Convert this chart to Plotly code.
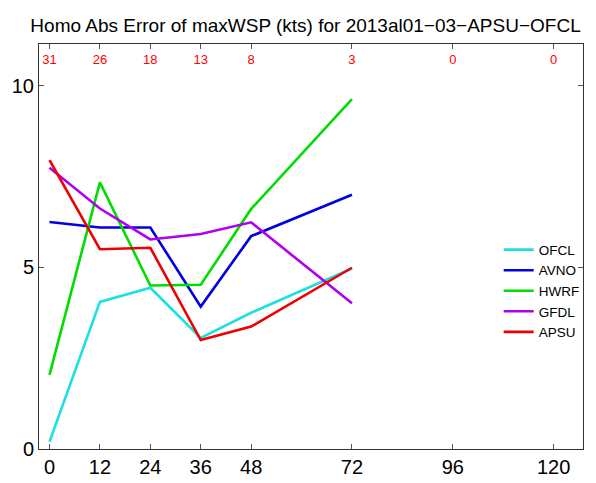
import plotly.graph_objects as go

lead = [0, 12, 24, 36, 48, 72]
OFCL = [0.2, 4.05, 4.44, 3.06, 3.75, 4.97]
AVNO = [6.25, 6.10, 6.10, 3.92, 5.86, 7.0]
HWRF = [2.04, 7.34, 4.50, 4.52, 6.61, 9.63]
GFDL = [7.74, 6.62, 5.77, 5.92, 6.24, 4.01]
APSU = [7.95, 5.50, 5.54, 3.00, 3.37, 4.99]

count_lead = [0, 12, 24, 36, 48, 72, 96, 120]
counts = [31, 26, 18, 13, 8, 3, 0, 0]
count_y = 10.68

xticks = [0, 12, 24, 36, 48, 72, 96, 120]
yticks = [0, 5, 10]

series = [
    ("OFCL", OFCL, "#1ee0e0"),
    ("AVNO", AVNO, "#0000e0"),
    ("HWRF", HWRF, "#00dd00"),
    ("GFDL", GFDL, "#b000f0"),
    ("APSU", APSU, "#ee0000"),
]

FONT = "Liberation Sans, Arial, Helvetica, sans-serif"

fig = go.Figure()
for name, vals, col in series:
    fig.add_trace(go.Scatter(x=lead, y=vals, mode="lines", name=name,
                             line=dict(color=col, width=2.6)))

fig.add_trace(go.Scatter(x=count_lead, y=[count_y] * len(count_lead),
                         mode="text", text=[str(c) for c in counts],
                         textfont=dict(color="#ff0000", size=13, family=FONT),
                         showlegend=False, hoverinfo="skip"))

# page body has an 8px margin, so the figure is sized to fit the window
fig.update_layout(
    width=588, height=475,
    margin=dict(l=31, r=13, t=36, b=34, autoexpand=False),
    paper_bgcolor="white", plot_bgcolor="white",
    font=dict(family=FONT, color="black"),
    title=dict(text="Homo Abs Error of maxWSP (kts) for 2013al01\u221203\u2212APSU\u2212OFCL",
               x=0.506, xref="container", xanchor="center",
               y=0.964, yref="container", yanchor="middle",
               font=dict(size=19, family=FONT, color="black")),
    showlegend=True,
    legend=dict(x=0.845, xanchor="left", y=0.53, yanchor="top",
                bgcolor="rgba(0,0,0,0)", borderwidth=0,
                font=dict(size=13.5, family=FONT), tracegroupgap=0,
                itemwidth=30),
)
fig.update_xaxes(range=[-2.5, 127], tickvals=xticks, ticktext=[str(t) for t in xticks],
                 showgrid=False, zeroline=False, showline=True, linecolor="#333",
                 linewidth=1, mirror="ticks", ticks="inside", ticklen=5,
                 tickcolor="#555", tickfont=dict(size=20, family=FONT),
                 automargin=False)
fig.update_yaxes(range=[0, 11.15], tickvals=yticks, ticktext=[str(t) for t in yticks],
                 showgrid=False, zeroline=False, showline=True, linecolor="#333",
                 linewidth=1, mirror="ticks", ticks="inside", ticklen=5,
                 tickcolor="#555", tickfont=dict(size=20, family=FONT),
                 automargin=False)

fig.write_html("out.html")
